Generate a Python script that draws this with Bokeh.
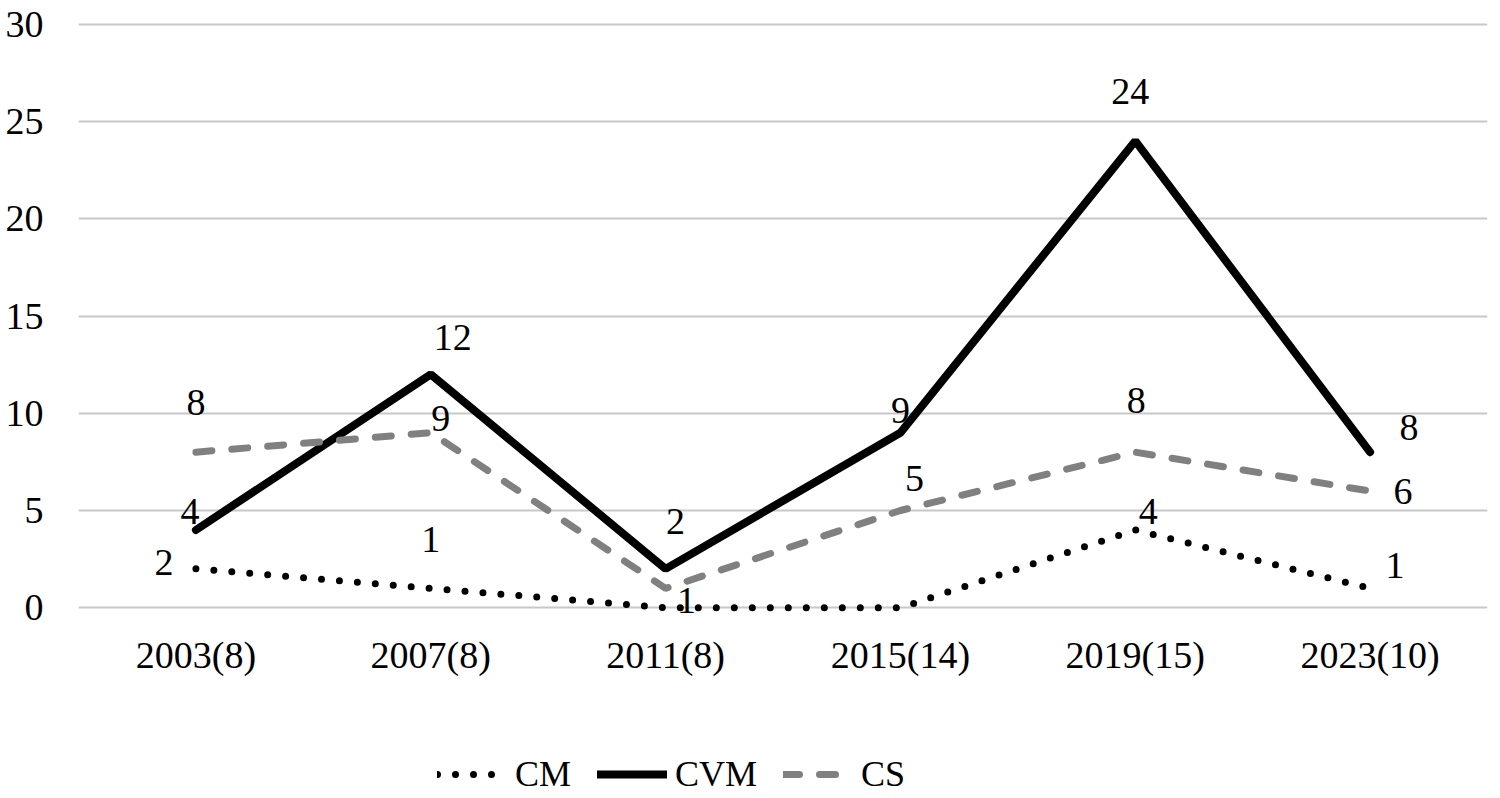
from bokeh.plotting import figure
from bokeh.layouts import column
from bokeh.models import (ColumnDataSource, LabelSet, Legend, LegendItem,
                          FixedTicker, Range1d, FactorRange)
from bokeh.embed import file_html
from bokeh.resources import INLINE

# ---- data ----
categories = ["2003(8)", "2007(8)", "2011(8)", "2015(14)", "2019(15)", "2023(10)"]
cm = [2, 1, 0, 0, 4, 1]
cvm = [4, 12, 2, 9, 24, 8]
cs = [8, 9, 1, 5, 8, 6]
cm_label_shown = [True, True, False, False, True, True]
y_ticks = [0, 5, 10, 15, 20, 25, 30]
series_names = ["CM", "CVM", "CS"]

# ---- styles: label offsets in screen pixels (dx, dy up) ----
cm_off_x = [-32, 0, 0, 0, 13, 25]
cm_off_y = [6, 49, 0, 0, 18, 23]
cvm_off_x = [-6, 22, 10, 0, -5, 39]
cvm_off_y = [18, 37, 47, 22, 49, 25]
cs_off_x = [0, 10, 21, 14, 1, 33]
cs_off_y = [50, 14, -12, 32, 52, 0]

FONT = "Liberation Serif"
FS = "38px"
GRAY = "#808080"
W = 1492

p = figure(x_range=FactorRange(*categories, range_padding=0),
           y_range=Range1d(-0.5, 30.5),
           frame_width=1409, frame_height=603,
           min_border_left=78, min_border_right=5,
           min_border_top=14, min_border_bottom=70,
           output_backend="svg", toolbar_location=None)
p.outline_line_color = None

for ax in (p.xaxis[0], p.yaxis[0]):
    ax.axis_line_color = None
    ax.major_tick_line_color = None
    ax.minor_tick_line_color = None
    ax.major_tick_out = 0
    ax.major_tick_in = 0
    ax.major_label_text_font = FONT
    ax.major_label_text_font_size = FS
    ax.major_label_text_color = "black"
p.yaxis.ticker = FixedTicker(ticks=y_ticks)
p.yaxis.major_label_standoff = 35
p.xaxis.major_label_standoff = 16

p.xgrid.visible = False
p.ygrid.ticker = FixedTicker(ticks=y_ticks)
p.ygrid.grid_line_color = "#c8c8c8"
p.ygrid.grid_line_width = 2

STY = [dict(line_color="black", line_width=7, line_dash="0 18", line_cap="round"),
       dict(line_color="black", line_width=8, line_cap="round"),
       dict(line_color=GRAY, line_width=7, line_dash="16 20", line_cap="round")]
SERIES = [cm, cvm, cs]

for vals, s in zip(SERIES, STY):
    p.line(categories, vals, **s)


def add_labels(vals, offx, offy, shown=None):
    idx = [i for i in range(len(vals)) if shown is None or shown[i]]
    src = ColumnDataSource(dict(
        x=[categories[i] for i in idx],
        y=[vals[i] for i in idx],
        t=[str(vals[i]) for i in idx],
        dx=[offx[i] for i in idx],
        dy=[offy[i] for i in idx]))
    ls = LabelSet(x="x", y="y", text="t", x_offset="dx", y_offset="dy",
                  source=src, text_align="center", text_baseline="middle",
                  text_font=FONT, text_font_size=FS, text_color="black")
    p.add_layout(ls)


add_labels(cm, cm_off_x, cm_off_y, cm_label_shown)
add_labels(cvm, cvm_off_x, cvm_off_y)
add_labels(cs, cs_off_x, cs_off_y)

# ---- legend strip (series drawn out of its visible range; only the legend shows) ----
p2 = figure(width=W, height=110, x_range=FactorRange(*categories, range_padding=0),
            y_range=Range1d(100, 101),
            min_border=0, output_backend="svg", toolbar_location=None)
p2.axis.visible = False
p2.grid.visible = False
p2.outline_line_color = None
rs = [p2.line(categories, vals, **s) for vals, s in zip(SERIES, STY)]

legend = Legend(items=[LegendItem(label=n, renderers=[r]) for n, r in zip(series_names, rs)],
                orientation="horizontal", location=(359, 2),
                border_line_color=None, background_fill_alpha=0,
                label_text_font=FONT, label_text_font_size="36px",
                label_text_color="black",
                glyph_width=70, glyph_height=40, label_standoff=8,
                spacing=26, padding=0, margin=0)
p2.add_layout(legend)

open("out.html", "w").write(file_html(column(p, p2), INLINE))
